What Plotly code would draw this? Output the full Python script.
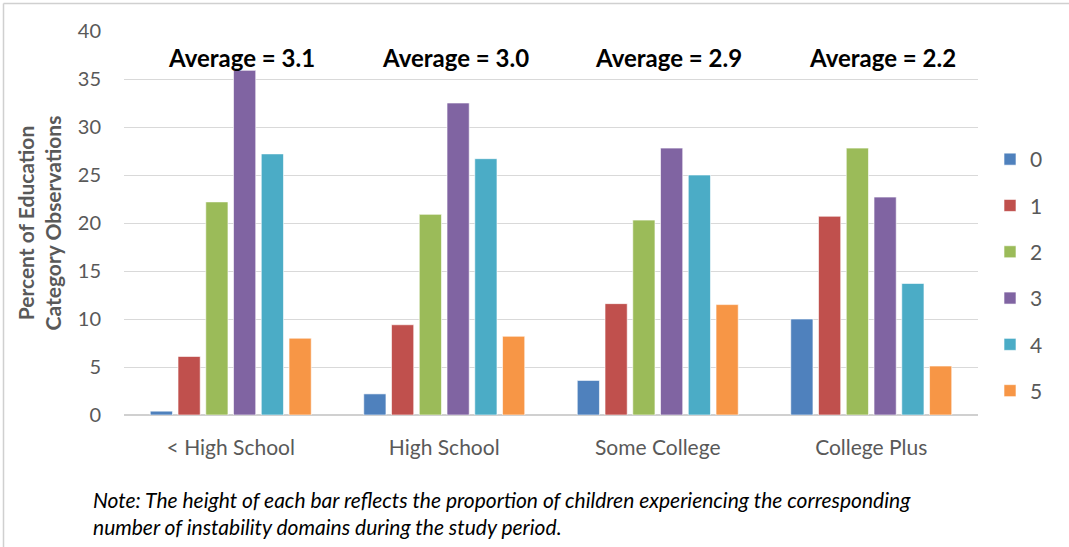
import plotly.graph_objects as go

categories = ["< High School", "High School", "Some College", "College Plus"]
series_names = ["0", "1", "2", "3", "4", "5"]
values_0 = [0.4, 2.2, 3.6, 10.0]
values_1 = [6.1, 9.4, 11.6, 20.7]
values_2 = [22.2, 20.9, 20.3, 27.8]
values_3 = [35.9, 32.5, 27.8, 22.7]
values_4 = [27.2, 26.7, 25.0, 13.7]
values_5 = [8.0, 8.2, 11.5, 5.1]
averages = ["Average = 3.1", "Average = 3.0", "Average = 2.9", "Average = 2.2"]
y_ticks = [0, 5, 10, 15, 20, 25, 30, 35, 40]

colors = ["#4F81BD", "#C0504D", "#9BBB59", "#8064A2", "#4BACC6", "#F79646"]
all_values = [values_0, values_1, values_2, values_3, values_4, values_5]

FONT = "Lato"
W, H = 1069, 547
ml, mr, mt, mb = 124, 91, 31, 132
pw, ph = W - ml - mr, H - mt - mb

def px_x(p):
    return (p - ml) / pw

def px_y(p):
    return (H - mb - p) / ph

fig = go.Figure()
for name, vals, col in zip(series_names, all_values, colors):
    fig.add_trace(go.Bar(
        x=categories, y=vals, name=name, legendgroup=name,
        marker=dict(color=col, line=dict(color="rgba(255,255,255,0.6)", width=1)),
    ))

for cat, txt in zip(categories, averages):
    fig.add_annotation(x=cat, y=37.2, xref="x", yref="y", text="<b>" + txt + "</b>",
                       showarrow=False, xshift=11,
                       font=dict(family=FONT, size=24, color="#000000"))

fig.add_annotation(x=px_x(91), y=px_y(499), xref="paper", yref="paper",
                   xanchor="left", yanchor="middle", showarrow=False, align="left",
                   text="<i>Note: The height of each bar reflects the proportion of children experiencing the corresponding</i>",
                   font=dict(family=FONT, size=21, color="#000000"))
fig.add_annotation(x=px_x(91), y=px_y(526), xref="paper", yref="paper",
                   xanchor="left", yanchor="middle", showarrow=False, align="left",
                   text="<i>number of instability domains during the study period.</i>",
                   font=dict(family=FONT, size=21, color="#000000"))

# frame lines
fig.add_shape(type="line", xref="paper", yref="paper",
              x0=px_x(3.5), x1=px_x(3.5), y0=px_y(3.5), y1=px_y(560),
              line=dict(color="#d0d0d0", width=1.5))
fig.add_shape(type="line", xref="paper", yref="paper",
              x0=px_x(3.5), x1=px_x(1090), y0=px_y(3.5), y1=px_y(3.5),
              line=dict(color="#d0d0d0", width=1.5))

fig.update_layout(
    width=W, height=H,
    margin=dict(l=ml, r=mr, t=mt, b=mb, autoexpand=False),
    paper_bgcolor="white", plot_bgcolor="white",
    barmode="group", bargap=0.22, bargroupgap=0.2,
    font=dict(family=FONT, color="#595959"),
    showlegend=True,
    legend=dict(x=px_x(990), y=px_y(275), xanchor="left", yanchor="middle",
                font=dict(family=FONT, size=21, color="#595959"),
                traceorder="grouped", tracegroupgap=16, itemwidth=30),
    xaxis=dict(showgrid=False, showline=False, ticks="",
               ticklabelstandoff=18,
               tickfont=dict(family=FONT, size=21, color="#595959")),
    yaxis=dict(range=[0, 40], tickvals=y_ticks, showgrid=True,
               gridcolor="#d9d9d9", gridwidth=1.3, zeroline=True,
               zerolinecolor="#d0d0d0", zerolinewidth=1.5, ticks="",
               ticklabelstandoff=22,
               tickfont=dict(family=FONT, size=20, color="#595959"),
               title=dict(text="<b>Percent of Education<br>Category Observations</b>",
                          font=dict(family=FONT, size=21, color="#595959"),
                          standoff=10)),
)

fig.write_html("out.html")
